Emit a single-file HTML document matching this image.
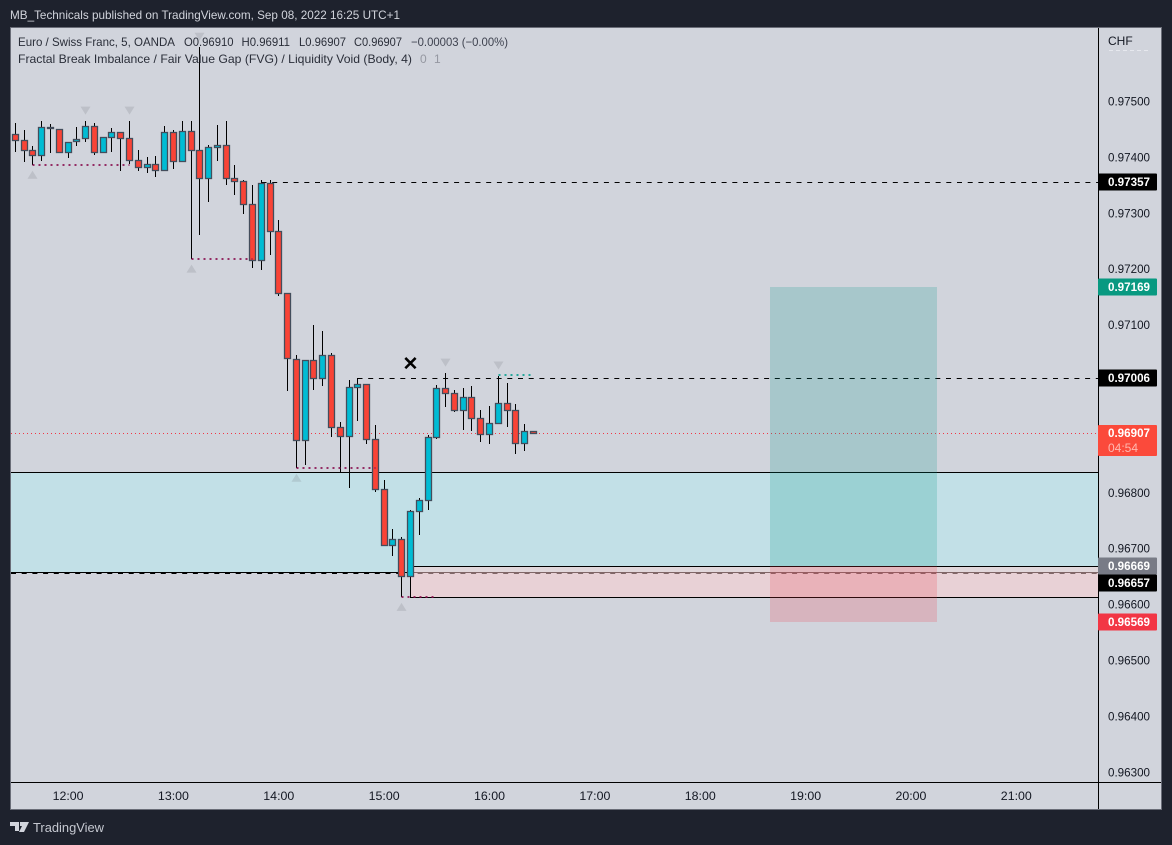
<!DOCTYPE html>
<html lang="en">
<head>
<meta charset="utf-8">
<title>EUR/CHF 5 min chart</title>
<style>
html,body{margin:0;padding:0;background:#1e222d;width:1172px;height:845px;overflow:hidden}
svg{display:block;font-family:"Liberation Sans",sans-serif}
text{font-size:12px}
</style>
</head>
<body>
<svg id="chart" xmlns="http://www.w3.org/2000/svg" width="1172" height="845" viewBox="0 0 1172 845">
  <rect x="0" y="0" width="1172" height="845" fill="#1e222d"/>
  <text x="10" y="19" fill="#d1d4dc" textLength="390" lengthAdjust="spacingAndGlyphs">MB_Technicals published on TradingView.com, Sep 08, 2022 16:25 UTC+1</text>
  <rect x="10.5" y="27.5" width="1151" height="782" fill="#d1d4dc" stroke="#6a6d78" stroke-width="1"/>
  <g id="zones"></g>
  <g id="lines"></g>
  <g id="zones2"></g>
  <g id="position"></g>
  <g id="markers"></g>
  <g id="candles"></g>
  <g id="dots"></g>
  <text x="410.5" y="370" text-anchor="middle" style="font-size:19px;font-weight:bold" fill="#000">✕</text>
  <g fill="#2a2e39">
    <text x="18" y="46" textLength="157" lengthAdjust="spacingAndGlyphs">Euro / Swiss Franc, 5, OANDA</text>
    <text x="184" y="46" textLength="49.5" lengthAdjust="spacingAndGlyphs">O0.96910</text>
    <text x="241.5" y="46" textLength="48.5" lengthAdjust="spacingAndGlyphs">H0.96911</text>
    <text x="299" y="46" textLength="47" lengthAdjust="spacingAndGlyphs">L0.96907</text>
    <text x="354" y="46" textLength="48" lengthAdjust="spacingAndGlyphs">C0.96907</text>
    <text x="411" y="46" textLength="97" lengthAdjust="spacingAndGlyphs" fill="#3f4350">−0.00003 (−0.00%)</text>
    <text x="18" y="63" textLength="394" lengthAdjust="spacingAndGlyphs">Fractal Break Imbalance / Fair Value Gap (FVG) / Liquidity Void (Body, 4)</text>
    <text x="420" y="63" fill="#9598a1">0</text>
    <text x="434" y="63" fill="#9598a1">1</text>
  </g>
  <line x1="1098.5" y1="28" x2="1098.5" y2="809" stroke="#000" stroke-width="1"/>
  <line x1="11" y1="782.5" x2="1161" y2="782.5" stroke="#000" stroke-width="1"/>
  <text x="1108" y="45" fill="#131722">CHF</text>
  <line x1="1109" y1="50.5" x2="1150" y2="50.5" stroke="#e6e8ee" stroke-width="1" stroke-dasharray="4 3"/>
  <g id="priceAxis"></g>
  <g id="timeAxis"></g>
  <g id="priceLabels"></g>
  <g fill="#d1d4dc">
    <path d="M10 822h9v9h-4v-5h-5zM20 822h9l-5 10h-5l3-6h-2z" fill="#d1d4dc"/>
    <text x="33" y="832" textLength="71" lengthAdjust="spacingAndGlyphs" style="font-size:13px" fill="#c5c8d0">TradingView</text>
  </g>
</svg>
<script>
const categories = ["11:30","11:35","11:40","11:45","11:50","11:55","12:00","12:05","12:10","12:15","12:20","12:25","12:30","12:35","12:40","12:45","12:50","12:55","13:00","13:05","13:10","13:15","13:20","13:25","13:30","13:35","13:40","13:45","13:50","13:55","14:00","14:05","14:10","14:15","14:20","14:25","14:30","14:35","14:40","14:45","14:50","14:55","15:00","15:05","15:10","15:15","15:20","15:25","15:30","15:35","15:40","15:45","15:50","15:55","16:00","16:05","16:10","16:15","16:20","16:25"];
const opens = [0.97441,0.97432,0.97414,0.97404,0.97455,0.97451,0.97409,0.97429,0.97434,0.97457,0.97409,0.97436,0.97446,0.97434,0.97395,0.97382,0.97388,0.97377,0.97445,0.97393,0.97448,0.97414,0.97364,0.97418,0.97422,0.97364,0.97357,0.97316,0.97216,0.97355,0.97268,0.97157,0.97040,0.96894,0.97038,0.97005,0.97047,0.96917,0.96901,0.96990,0.96994,0.96896,0.96806,0.96707,0.96717,0.96652,0.96767,0.96788,0.96899,0.96987,0.96978,0.96949,0.96971,0.96933,0.96906,0.96924,0.96960,0.96949,0.96889,0.96910];
const highs = [0.97461,0.97449,0.97420,0.97465,0.97460,0.97451,0.97428,0.97454,0.97465,0.97461,0.97436,0.97452,0.97446,0.97465,0.97414,0.97400,0.97402,0.97457,0.97449,0.97465,0.97465,0.97597,0.97422,0.97458,0.97465,0.97386,0.97359,0.97351,0.97359,0.97359,0.97288,0.97157,0.97046,0.97038,0.97100,0.97089,0.97050,0.96926,0.97002,0.97005,0.96994,0.96921,0.96823,0.96735,0.96721,0.96769,0.96790,0.96903,0.96993,0.97014,0.96984,0.96987,0.96991,0.96948,0.96955,0.97009,0.96996,0.96959,0.96923,0.96911];
const lows = [0.97410,0.97392,0.97386,0.97394,0.97408,0.97409,0.97399,0.97420,0.97428,0.97405,0.97409,0.97410,0.97376,0.97389,0.97376,0.97372,0.97365,0.97377,0.97380,0.97393,0.97218,0.97262,0.97321,0.97394,0.97351,0.97333,0.97298,0.97203,0.97198,0.97226,0.97152,0.96983,0.96844,0.96850,0.96984,0.96991,0.96899,0.96837,0.96809,0.96929,0.96887,0.96802,0.96707,0.96687,0.96613,0.96613,0.96724,0.96769,0.96896,0.96954,0.96944,0.96912,0.96911,0.96890,0.96887,0.96924,0.96918,0.96869,0.96875,0.96907];
const closes = [0.97432,0.97414,0.97404,0.97455,0.97452,0.97409,0.97428,0.97433,0.97457,0.97409,0.97436,0.97446,0.97434,0.97395,0.97382,0.97388,0.97377,0.97445,0.97393,0.97448,0.97414,0.97364,0.97418,0.97422,0.97364,0.97357,0.97316,0.97216,0.97355,0.97268,0.97157,0.97041,0.96894,0.97038,0.97005,0.97047,0.96917,0.96901,0.96990,0.96994,0.96896,0.96806,0.96707,0.96717,0.96652,0.96767,0.96788,0.96899,0.96987,0.96978,0.96949,0.96971,0.96933,0.96906,0.96924,0.96960,0.96949,0.96889,0.96910,0.96907];
const priceTicks = [0.975,0.974,0.973,0.972,0.971,0.968,0.967,0.966,0.965,0.964,0.963];
const timeTicks = ["12:00","13:00","14:00","15:00","16:00","17:00","18:00","19:00","20:00","21:00"];
const lastPrice = 0.96907;
const liquidityTop = 0.96837;
const imbalanceTop = 0.96669;
const imbalanceBottom = 0.96613;
const targetPrice = 0.97169;
const entryPrice = 0.96669;
const stopPrice = 0.96569;
const resistanceHigh = 0.97357;
const resistanceLow = 0.97006;
const supportLevel = 0.96657;
const swingLowLevels = [0.97386,0.97218,0.96844,0.96613];
const swingLowStartBars = [2,20,32,44];
const swingLowEndBars = [13,27,41,48];
const swingHighBars = [8,13,21,49,55];
const swingHighLevel = 0.97011;
const positionStartBar = 85.9;
const positionEndBar = 105;

const NS = 'http://www.w3.org/2000/svg';
function yScale(p){ return 101.5 + (0.975 - p) * 55900; }
function xScale(i){ return 15.4 + 8.78 * i; }
function xPixel(i){ return Math.floor(xScale(i)) + 0.5; }
function minutesOf(t){ const a = t.split(':'); return (+a[0]) * 60 + (+a[1]); }
function xTime(t){ return xScale((minutesOf(t) - minutesOf(categories[0])) / 5); }
function crisp(v){ return Math.round(v) + 0.5; }
function make(tag, props, parent){
  const el = document.createElementNS(NS, tag);
  for (const k in props) el.setAttribute(k, props[k]);
  parent.appendChild(el);
  return el;
}
const gz = document.getElementById('zones');
const gl = document.getElementById('lines');
const gz2 = document.getElementById('zones2');
const gp = document.getElementById('position');
const gm = document.getElementById('markers');
const gc = document.getElementById('candles');
const gd = document.getElementById('dots');
const gpa = document.getElementById('priceAxis');
const gta = document.getElementById('timeAxis');
const gpl = document.getElementById('priceLabels');

/* liquidity void zone */
{
  const t = crisp(yScale(liquidityTop)), b = crisp(yScale(supportLevel)) - 1;
  const z = make('rect', {x: 11, y: t, width: 1087, height: b - t, fill: '#c2e0e7'}, gz);
  
  
  const lt = make('line', {x1: 11, x2: 1098, y1: t, y2: t, stroke: '#000', 'stroke-width': 1}, gz);
  
  
  const lb = make('line', {x1: 11, x2: 1098, y1: b, y2: b, stroke: '#000', 'stroke-width': 1}, gz);
  
  
}
/* last price dotted line */
{
  const y = crisp(yScale(lastPrice));
  const l = make('line', {x1: 11, x2: 1098, y1: y, y2: y, stroke: '#f23645', 'stroke-width': 1, 'stroke-dasharray': '1 3'}, gl);
  
  
}
/* horizontal dashed levels */
{
  const a = Math.ceil(yScale(resistanceHigh)) + 0.5;
  const l1 = make('line', {x1: xPixel(28), x2: 1098, y1: a, y2: a, stroke: '#000', 'stroke-width': 1, 'stroke-dasharray': '5 5.7'}, gl);
  
  
  const b = crisp(yScale(resistanceLow));
  const l2 = make('line', {x1: xPixel(39), x2: 1098, y1: b, y2: b, stroke: '#000', 'stroke-width': 1, 'stroke-dasharray': '5 5.7'}, gl);
  
  
  const c = crisp(yScale(supportLevel));
  const l3 = make('line', {x1: 11, x2: 1098, y1: c, y2: c, stroke: '#000', 'stroke-width': 1, 'stroke-dasharray': '5 5.7'}, gl);
  
  
}
/* imbalance zone */
{
  const t = crisp(yScale(imbalanceTop)), b = crisp(yScale(imbalanceBottom)), x = xPixel(45);
  const z = make('rect', {x: x, y: t, width: 1098 - x, height: b - t, fill: 'rgba(255,205,208,0.5)'}, gz2);
  
  
  const o = make('path', {d: 'M1098 ' + t + 'H' + x + 'V' + b + 'H1098', fill: 'none', stroke: '#000', 'stroke-width': 1}, gz2);
  
  
}
/* long position tool */
{
  const x0 = Math.round(xScale(positionStartBar)), x1 = Math.round(xScale(positionEndBar));
  const yt = Math.round(yScale(targetPrice)), ye = Math.round(yScale(entryPrice)), ys = Math.round(yScale(stopPrice));
  const p = make('rect', {x: x0, y: yt, width: x1 - x0, height: ye - yt, fill: 'rgba(0,150,136,0.2)'}, gp);
  
  
  const s = make('rect', {x: x0, y: ye, width: x1 - x0, height: ys - ye, fill: 'rgba(242,54,69,0.2)'}, gp);
  
  
}
/* fractal triangles */
function triangle(cx, cy, up, name){
  const d = up ? 'M' + (cx - 5) + ' ' + (cy + 4) + 'L' + cx + ' ' + (cy - 4) + 'L' + (cx + 5) + ' ' + (cy + 4) + 'Z'
               : 'M' + (cx - 5) + ' ' + (cy - 4) + 'L' + cx + ' ' + (cy + 4) + 'L' + (cx + 5) + ' ' + (cy - 4) + 'Z';
  const t = make('path', {d: d, fill: 'rgba(120,123,134,0.22)'}, gm);
  
  
}
swingHighBars.forEach(function(bar){
  triangle(xPixel(bar), yScale(highs[bar]) - 10.5, false, 'fractal-high-marker');
});
swingLowLevels.forEach(function(level, k){
  triangle(xPixel(swingLowStartBars[k]), yScale(level) + 9.5, true, 'fractal-low-marker');
});
/* candles */
categories.forEach(function(c, i){
  const cx = xPixel(i);
  const up = closes[i] > opens[i];
  const w = make('line', {x1: cx, x2: cx, y1: Math.round(yScale(highs[i])), y2: Math.round(yScale(lows[i])), stroke: '#000', 'stroke-width': 1}, gc);
  
  
  const top = Math.round(yScale(Math.max(opens[i], closes[i])));
  const bot = Math.round(yScale(Math.min(opens[i], closes[i])));
  const b = make('rect', {x: cx - 3, y: top + 0.5, width: 6, height: Math.max(bot - top, 1), fill: up ? '#00bcd4' : '#f94336', stroke: '#434d5c', 'stroke-width': 1.3}, gc);
  
  
});
/* fractal dotted lines */
swingLowLevels.forEach(function(level, k){
  const y = Math.round(yScale(level));
  const l = make('line', {x1: xPixel(swingLowStartBars[k]), x2: xPixel(swingLowEndBars[k]), y1: y, y2: y, stroke: '#880e4f', 'stroke-opacity': 0.85, 'stroke-width': 2, 'stroke-dasharray': '2 4'}, gd);
  
  
});
{
  const y = Math.round(yScale(swingHighLevel));
  const l = make('line', {x1: xPixel(55), x2: xPixel(58) + 6, y1: y, y2: y, stroke: '#26a69a', 'stroke-width': 2, 'stroke-dasharray': '2 4'}, gd);
  
  
}
/* price axis ticks */
priceTicks.forEach(function(p){
  const t = make('text', {x: 1108, y: yScale(p) + 4, fill: '#131722', textLength: 42, lengthAdjust: 'spacingAndGlyphs'}, gpa);
  t.textContent = p.toFixed(5);
  
  
});
/* time axis ticks */
timeTicks.forEach(function(label){
  const t = make('text', {x: xTime(label) - 15.5, y: 800, fill: '#131722', textLength: 31, lengthAdjust: 'spacingAndGlyphs'}, gta);
  t.textContent = label;
  
  
});
/* price labels */
function priceLabel(price, bg, offset, name){
  const cy = Math.round(yScale(price)) + offset;
  const r = make('rect', {x: 1098, y: cy - 8.5, width: 59, height: 17, rx: 1, fill: bg}, gpl);
  
  
  const t = make('text', {x: 1108, y: cy + 4, fill: '#fff', 'font-weight': 'bold', textLength: 42, lengthAdjust: 'spacingAndGlyphs'}, gpl);
  t.textContent = price.toFixed(5);
  
  
}
priceLabel(resistanceHigh, '#000', 1, 'resistance-high-label');
priceLabel(targetPrice, '#089981', 0, 'target-price-label');
priceLabel(resistanceLow, '#000', 0, 'resistance-low-label');
priceLabel(entryPrice, '#787b86', 0, 'entry-price-label');
priceLabel(supportLevel, '#000', 10, 'support-level-label');
priceLabel(stopPrice, '#f23645', 0, 'stop-price-label');
{
  const cy = Math.round(yScale(lastPrice));
  const r = make('rect', {x: 1098, y: cy - 8, width: 59, height: 31, rx: 1, fill: '#fb4a3b'}, gpl);
  
  
  const t = make('text', {x: 1108, y: cy + 4, fill: '#fff', 'font-weight': 'bold', textLength: 42, lengthAdjust: 'spacingAndGlyphs'}, gpl);
  t.textContent = lastPrice.toFixed(5);
  
  
  const cd = make('text', {x: 1108, y: cy + 19, fill: '#ffb8b0'}, gpl);
  cd.textContent = '04:54';
  
  
}
</script>
</body>
</html>
